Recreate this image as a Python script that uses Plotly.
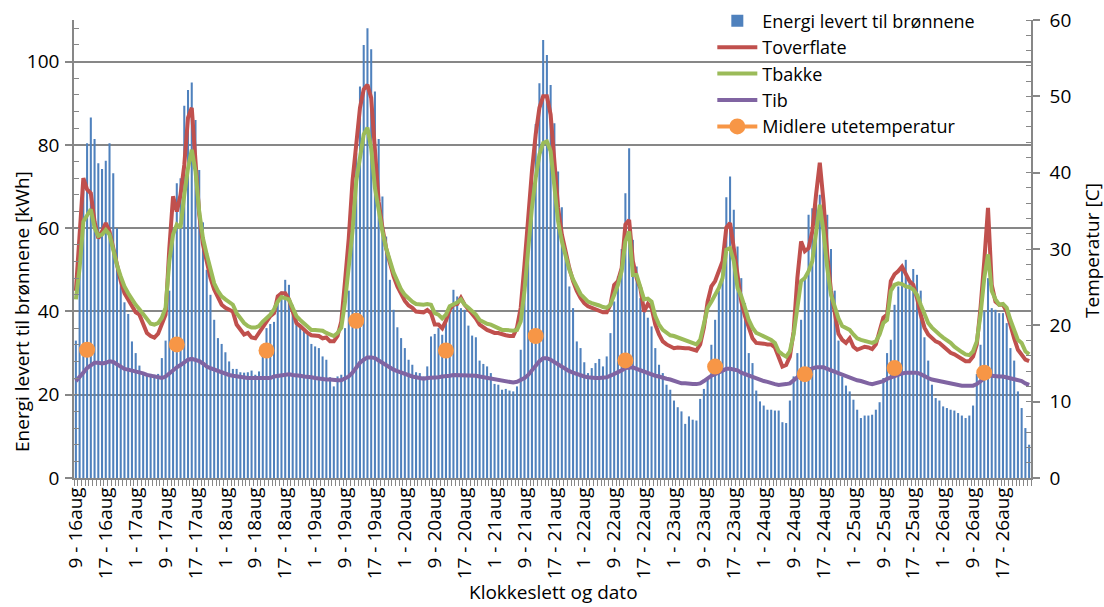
import plotly.graph_objects as go

# ---------------- data ----------------
hours = list(range(256))  # hourly steps from 9h 16aug to 0h 27aug

tick_positions = list(range(0, 256, 8))
tick_labels = ["9 - 16aug", "17 - 16aug", "1 - 17aug", "9 - 17aug", "17 - 17aug",
               "1 - 18aug", "9 - 18aug", "17 - 18aug", "1 - 19aug", "9 - 19aug",
               "17 - 19aug", "1 - 20aug", "9 - 20aug", "17 - 20aug", "1 - 21aug",
               "9 - 21aug", "17 - 21aug", "1 - 22aug", "9 - 22aug", "17 - 22aug",
               "1 - 23aug", "9 - 23aug", "17 - 23aug", "1 - 24aug", "9 - 24aug",
               "17 - 24aug", "1 - 25aug", "9 - 25aug", "17 - 25aug", "1 - 26aug",
               "9 - 26aug", "17 - 26aug"]

energi = [
    33, 58, 70, 80.4, 86.6, 81.4, 75.6, 74.2, 76.2, 80.4,
    73.2, 60, 47, 42.2, 39.4, 32.8, 30, 27, 25, 25,
    25, 24.8, 25, 28.8, 33, 45, 60, 70.8, 72, 89.4,
    93.2, 95, 86, 74, 61.4, 50, 44, 38, 33.6, 32.2,
    30.2, 28, 26.2, 26.2, 25.4, 25.3, 25.4, 25.8, 24.8, 25.6,
    31.2, 36, 37, 37.5, 44, 44.8, 47.6, 46.4, 41.6, 39.2,
    36.4, 35.6, 34.4, 32.2, 31.6, 31.2, 29.2, 28.4, 24.2, 22,
    24.4, 24.8, 36, 45, 60, 78, 94, 104, 108, 103,
    92.8, 81.4, 67.6, 58, 47.6, 40.4, 36.2, 33.6, 31.2, 28.4,
    27.2, 25.4, 25.2, 24.4, 26.8, 34, 34.6, 36, 34.4, 38,
    41, 45.2, 43.6, 40.8, 40.4, 36.6, 34.2, 33.8, 28.2, 27.4,
    26.8, 25.2, 22.6, 22.4, 21.2, 21.4, 21, 20.8, 22, 30.8,
    45, 60, 75, 85, 94.8, 105.2, 101.6, 94.4, 85.2, 73.6,
    65, 55, 46, 40.8, 32.8, 31.2, 27.8, 25.2, 26.4, 27.6,
    28.6, 26.8, 29.2, 34.8, 42.4, 48.4, 55, 68.4, 79.2, 57.2,
    50.8, 43.2, 40.8, 38.5, 36.4, 31.2, 27.2, 25.2, 22.4, 21.2,
    18.6, 17, 16, 13, 14.8, 14, 13.8, 19, 21.4, 24,
    32, 38, 45, 52, 67.4, 72.4, 64.4, 55.6, 48, 42,
    30, 27.6, 21, 18.4, 17.4, 16.4, 16.4, 16.2, 16.2, 13.4,
    13.2, 18.6, 24.4, 30, 38, 48, 63.2, 64.8, 67.6, 68,
    66, 63.2, 55, 45, 33, 24.4, 22.2, 20.8, 18.8, 16.4,
    14.4, 15, 15, 15.2, 16.4, 18.2, 24, 30, 33.2, 41.6,
    46, 50, 52.4, 47.2, 50.2, 48.8, 45, 33.8, 28.2, 22.4,
    19.2, 18.6, 17.2, 16.8, 16.4, 16.2, 15.6, 15, 14.4, 15,
    17.4, 25, 32, 40, 48, 40.8, 40.4, 39.6, 39.6, 37.2,
    31.2, 28.2, 20.8, 16.8, 12, 8,
]

toverflate = [
    24.5, 32.3, 39.3, 37.8, 37.3, 33.6, 31.4, 32.3, 33.4, 32.3,
    30.1, 27.5, 25.8, 24.2, 23.4, 22.5, 21.7, 21.4, 20.2, 19.0,
    18.6, 18.4, 18.9, 20.1, 21.4, 30.1, 36.9, 34.9, 37.1, 41.0,
    47.2, 48.5, 41.5, 34.5, 30.6, 28.2, 26.2, 24.7, 23.6, 22.7,
    22.3, 22.1, 21.8, 20.1, 19.4, 18.8, 19.0, 18.4, 18.3, 19.0,
    19.9, 20.5, 21.2, 21.6, 23.8, 24.2, 24.2, 23.4, 21.8, 20.3,
    19.9, 19.4, 19.0, 18.7, 18.6, 18.6, 18.3, 18.4, 17.9, 17.9,
    18.6, 20.5, 25.8, 31.4, 38.9, 44.1, 48.5, 50.9, 51.5, 49.8,
    42.4, 36.2, 32.8, 30.1, 28.2, 26.4, 25.1, 24.0, 23.2, 22.6,
    22.3, 21.8, 21.7, 21.7, 22.0, 21.6, 20.1, 20.1, 19.6, 20.6,
    22.1, 22.7, 22.8, 23.6, 22.7, 22.1, 21.6, 20.9, 20.1, 19.7,
    19.4, 19.2, 19.0, 19.0, 18.8, 18.7, 18.6, 18.6, 19.7, 22.3,
    27.9, 34.5, 40.2, 45.0, 48.5, 50.0, 50.0, 47.6, 41.0, 35.4,
    31.9, 29.5, 27.5, 25.8, 24.5, 23.6, 22.9, 22.5, 22.3, 22.1,
    21.9, 21.7, 21.7, 22.7, 25.3, 25.8, 27.5, 33.2, 33.8, 28.4,
    26.2, 24.9, 21.8, 22.8, 22.3, 20.1, 18.8, 17.9, 17.5, 17.2,
    17.0, 17.1, 17.0, 17.0, 17.0, 16.9, 16.7, 17.5, 19.7, 23.1,
    25.1, 25.8, 27.1, 28.4, 32.8, 33.4, 30.1, 26.2, 23.1, 21.2,
    19.7, 18.3, 17.7, 17.7, 17.6, 17.5, 17.5, 17.1, 15.7, 14.6,
    14.8, 15.9, 19.2, 26.2, 31.0, 29.7, 30.1, 32.3, 37.1, 41.3,
    36.2, 29.3, 24.5, 21.4, 18.9, 18.1, 17.7, 18.3, 17.2, 16.8,
    17.0, 17.2, 17.1, 16.9, 17.5, 19.2, 21.0, 21.4, 25.8, 26.7,
    27.1, 27.7, 26.6, 25.8, 25.3, 23.6, 21.4, 19.7, 18.8, 18.3,
    17.9, 17.7, 17.3, 16.8, 16.4, 16.2, 15.9, 15.7, 15.3, 15.3,
    15.9, 17.5, 22.3, 28.4, 35.4, 25.3, 23.1, 22.7, 22.7, 21.8,
    19.9, 18.3, 16.8, 16.2, 15.5, 15.3,
]

tbakke = [
    23.4, 27.5, 33.6, 34.3, 35.2, 32.8, 31.7, 31.9, 32.5, 31.9,
    29.7, 27.9, 26.4, 25.1, 24.2, 23.4, 22.7, 22.1, 21.4, 20.7,
    20.2, 20.1, 20.3, 21.0, 22.3, 28.4, 31.9, 33.2, 32.8, 37.1,
    40.6, 43.0, 40.2, 34.9, 31.4, 29.3, 27.1, 25.5, 24.5, 23.8,
    23.4, 23.1, 22.7, 21.6, 20.9, 20.3, 19.9, 19.7, 19.7, 19.9,
    20.5, 21.0, 21.4, 22.1, 23.1, 23.7, 23.6, 23.4, 22.3, 21.2,
    20.7, 20.3, 19.9, 19.4, 19.4, 19.3, 19.3, 19.0, 18.8, 18.6,
    19.0, 19.7, 23.1, 27.5, 32.3, 38.9, 42.4, 45.0, 45.9, 43.2,
    38.0, 34.9, 32.3, 30.1, 28.4, 26.9, 25.8, 24.7, 24.0, 23.5,
    23.1, 22.8, 22.7, 22.7, 22.8, 22.7, 21.6, 21.4, 20.9, 21.4,
    22.5, 22.7, 23.0, 23.4, 22.7, 22.3, 21.9, 21.4, 20.7, 20.4,
    20.2, 20.1, 19.9, 19.7, 19.4, 19.4, 19.3, 19.3, 19.4, 20.5,
    24.5, 30.1, 35.4, 39.3, 42.4, 43.9, 44.1, 42.8, 38.0, 33.6,
    31.0, 29.0, 27.3, 26.0, 25.0, 24.1, 23.6, 23.1, 22.9, 22.8,
    22.6, 22.4, 22.3, 22.7, 24.0, 25.3, 27.1, 31.0, 32.3, 26.6,
    26.6, 24.9, 23.4, 23.5, 23.1, 21.2, 20.1, 19.4, 19.0, 18.7,
    18.6, 18.4, 18.3, 18.1, 17.9, 17.7, 17.5, 18.1, 20.1, 22.3,
    23.1, 24.0, 24.9, 26.2, 29.9, 30.1, 28.4, 24.9, 23.8, 22.3,
    20.7, 19.7, 19.0, 18.8, 18.6, 18.3, 18.1, 17.7, 16.6, 16.2,
    15.9, 16.6, 18.8, 22.3, 25.8, 26.2, 27.1, 28.4, 32.3, 35.8,
    32.3, 27.5, 24.0, 22.3, 20.9, 19.9, 19.7, 19.4, 18.8, 18.3,
    18.1, 18.0, 17.8, 17.7, 17.9, 18.8, 20.3, 20.7, 24.5, 25.3,
    25.5, 25.4, 25.1, 25.0, 24.7, 24.0, 22.7, 21.4, 20.3, 19.7,
    19.2, 18.8, 18.4, 18.1, 17.7, 17.2, 16.8, 16.5, 16.2, 16.1,
    16.6, 17.9, 21.4, 26.2, 29.3, 24.5, 23.4, 22.7, 22.8, 22.3,
    20.7, 19.4, 18.1, 17.7, 16.6, 16.2,
]

tib = [
    12.7, 13.2, 13.8, 14.4, 14.8, 15.1, 15.1, 15.0, 15.1, 15.3,
    15.2, 14.9, 14.6, 14.3, 14.2, 14.1, 14.0, 13.8, 13.7, 13.5,
    13.4, 13.2, 13.1, 13.1, 13.3, 13.7, 14.2, 14.5, 14.8, 15.2,
    15.5, 15.6, 15.5, 15.3, 15.0, 14.6, 14.4, 14.2, 14.0, 13.8,
    13.6, 13.5, 13.4, 13.3, 13.2, 13.2, 13.1, 13.1, 13.1, 13.1,
    13.1, 13.0, 13.1, 13.3, 13.4, 13.5, 13.6, 13.6, 13.5, 13.5,
    13.4, 13.3, 13.3, 13.2, 13.1, 13.0, 13.0, 12.9, 12.9, 12.8,
    12.8, 12.8, 13.0, 13.3, 13.8, 14.5, 15.1, 15.5, 15.8, 15.8,
    15.7, 15.4, 15.1, 14.8, 14.4, 14.2, 14.0, 13.8, 13.6, 13.4,
    13.3, 13.2, 13.1, 13.0, 13.1, 13.1, 13.2, 13.2, 13.3, 13.3,
    13.4, 13.5, 13.5, 13.5, 13.5, 13.5, 13.4, 13.4, 13.3, 13.2,
    13.1, 13.0, 12.9, 12.8, 12.7, 12.6, 12.6, 12.5, 12.6, 12.8,
    13.1, 13.5, 14.1, 14.8, 15.3, 15.7, 15.7, 15.5, 15.2, 14.8,
    14.5, 14.2, 14.0, 13.8, 13.6, 13.4, 13.3, 13.2, 13.1, 13.1,
    13.1, 13.1, 13.2, 13.4, 13.6, 13.9, 14.1, 14.4, 14.5, 14.5,
    14.3, 14.1, 14.0, 13.8, 13.6, 13.4, 13.3, 13.1, 13.0, 12.9,
    12.7, 12.6, 12.4, 12.4, 12.3, 12.3, 12.3, 12.4, 12.7, 13.1,
    13.4, 13.6, 13.8, 14.1, 14.3, 14.3, 14.2, 14.1, 13.8, 13.6,
    13.4, 13.2, 13.0, 12.9, 12.7, 12.6, 12.4, 12.3, 12.2, 12.2,
    12.3, 12.4, 12.8, 13.3, 13.7, 14.0, 14.2, 14.4, 14.5, 14.5,
    14.5, 14.3, 14.1, 13.9, 13.7, 13.5, 13.3, 13.1, 13.0, 12.8,
    12.7, 12.5, 12.4, 12.3, 12.4, 12.5, 12.7, 13.0, 13.2, 13.3,
    13.5, 13.7, 13.8, 13.8, 13.8, 13.8, 13.6, 13.3, 13.1, 12.9,
    12.8, 12.7, 12.5, 12.4, 12.3, 12.2, 12.2, 12.1, 12.1, 12.1,
    12.1, 12.3, 12.7, 13.1, 13.4, 13.4, 13.3, 13.3, 13.3, 13.2,
    13.1, 12.9, 12.8, 12.7, 12.4, 12.2,
]

ute_hours = [3, 27, 51, 75, 99, 123, 147, 171, 195, 219, 243]  # 12h each day
ute_temp = [16.8, 17.5, 16.7, 20.6, 16.7, 18.6, 15.4, 14.6, 13.6, 14.4, 13.8]

assert len(energi) == len(hours) == len(toverflate) == len(tbakke) == len(tib), (
    len(energi), len(toverflate), len(tbakke), len(tib))

# hourly series for the daily mean outdoor temperature (value only at 12h)
ute_series = [None] * len(hours)
for h, v in zip(ute_hours, ute_temp):
    ute_series[h] = v

# ---------------- figure ----------------
FONT = "Open Sans"
GRID = "#878787"

fig = go.Figure()
fig.add_trace(go.Bar(x=hours, y=energi, name="Energi levert til brønnene",
                     marker=dict(color="#4F81BD", line=dict(width=0)), yaxis="y"))
fig.add_trace(go.Scatter(x=hours, y=toverflate, name="Toverflate", mode="lines",
                         line=dict(color="#C0504D", width=4), yaxis="y2"))
fig.add_trace(go.Scatter(x=hours, y=tbakke, name="Tbakke", mode="lines",
                         line=dict(color="#9BBB59", width=4), yaxis="y2"))
fig.add_trace(go.Scatter(x=hours, y=tib, name="Tib", mode="lines",
                         line=dict(color="#8064A2", width=4), yaxis="y2"))
fig.add_trace(go.Scatter(x=hours, y=ute_series, name="Midlere utetemperatur",
                         mode="lines+markers", connectgaps=False,
                         line=dict(color="#F79646", width=4),
                         marker=dict(color="#F79646", size=16), yaxis="y2"))

fig.update_layout(
    width=1104, height=607,
    margin=dict(l=74, r=73, t=20, b=129, autoexpand=False),
    paper_bgcolor="white", plot_bgcolor="white",
    font=dict(family=FONT, size=19, color="black"),
    bargap=0.45,
    showlegend=True,
    legend=dict(x=0.667, y=1.038, xanchor="left", yanchor="top",
                bgcolor="rgba(0,0,0,0)", font=dict(size=18, family=FONT),
                tracegroupgap=0, itemwidth=40),
    xaxis=dict(range=[-0.5, 255.5], tickmode="array", tickvals=tick_positions,
               ticktext=tick_labels, tickangle=-90, ticks="",
               tickfont=dict(size=19, family=FONT),
               showgrid=False, zeroline=False, showline=True, linecolor=GRID, linewidth=1.5,
               minor=dict(tickmode="linear", tick0=0.5, dtick=1, ticks="outside",
                          ticklen=6, tickcolor=GRID, tickwidth=1, showgrid=False)),
    yaxis=dict(range=[0, 110], tickvals=[0, 20, 40, 60, 80, 100],
               ticks="outside", ticklen=7, tickcolor=GRID, tickwidth=1.5,
               showgrid=True, gridcolor=GRID, gridwidth=1.5, zeroline=False,
               showline=True, linecolor=GRID, linewidth=1.5,
               tickfont=dict(size=19, family=FONT), ticklabelstandoff=2,
               minor=dict(tickmode="linear", tick0=0, dtick=4, ticks="inside",
                          ticklen=5, tickcolor=GRID, tickwidth=1, showgrid=False)),
    yaxis2=dict(range=[0, 60], overlaying="y", side="right", tickvals=[0, 10, 20, 30, 40, 50, 60],
                ticks="outside", ticklen=7, tickcolor=GRID, tickwidth=1.5,
                showgrid=False, zeroline=False, showline=True, linecolor=GRID, linewidth=1.5,
                tickfont=dict(size=19, family=FONT), ticklabelstandoff=6,
                minor=dict(tickmode="linear", tick0=0, dtick=2, ticks="inside",
                           ticklen=5, tickcolor=GRID, tickwidth=1, showgrid=False)),
    annotations=[
        dict(text="Energi levert til brønnene [kWh]", textangle=-90, showarrow=False,
             xref="paper", yref="paper", x=(22 - 74) / 957, y=(478 - 312) / 458,
             xanchor="center", yanchor="middle", font=dict(size=19, family=FONT)),
        dict(text="Temperatur [C]", textangle=-90, showarrow=False,
             xref="paper", yref="paper", x=(1092 - 74) / 957, y=(478 - 251) / 458,
             xanchor="center", yanchor="middle", font=dict(size=19, family=FONT)),
        dict(text="Klokkeslett og dato", showarrow=False,
             xref="paper", yref="paper", x=(553 - 74) / 957, y=(478 - 592) / 458,
             xanchor="center", yanchor="middle", font=dict(size=19, family=FONT)),
    ],
)

fig.write_html("out.html", config={"displayModeBar": False},
               post_script="document.body.style.margin='0px';")
